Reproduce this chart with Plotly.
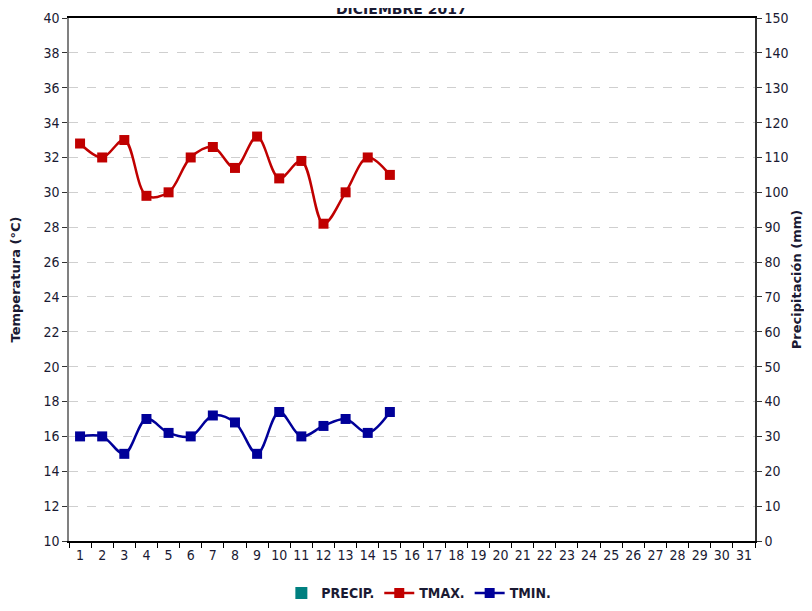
import plotly.graph_objects as go

# Datos diarios - diciembre 2017
dias = [str(d) for d in range(1, 32)]
dias_obs = [str(d) for d in range(1, 16)]
tmax = [32.8, 32.0, 33.0, 29.8, 30.0, 32.0, 32.6, 31.4, 33.2, 30.8, 31.8, 28.2, 30.0, 32.0, 31.0]
tmin = [16.0, 16.0, 15.0, 17.0, 16.2, 16.0, 17.2, 16.8, 15.0, 17.4, 16.0, 16.6, 17.0, 16.2, 17.4]
precip = [0, 0, 0, 0, 0, 0, 0, 0, 0, 0, 0, 0, 0, 0, 0]

FONT = "DejaVu Sans Condensed"
TXT = "#1a1a33"

fig = go.Figure()

fig.add_trace(go.Bar(
    x=dias_obs, y=precip, name="PRECIP.", yaxis="y2",
    marker=dict(color="#008080", line=dict(width=0)),
))
fig.add_trace(go.Scatter(
    x=dias_obs, y=tmax, name="TMAX.", mode="lines+markers",
    line=dict(color="#C00000", width=2.5, shape="spline", smoothing=1.0),
    marker=dict(symbol="square", size=10, color="#C00000"),
))
fig.add_trace(go.Scatter(
    x=dias_obs, y=tmin, name="TMIN.", mode="lines+markers",
    line=dict(color="#000099", width=2.5, shape="spline", smoothing=1.0),
    marker=dict(symbol="square", size=10, color="#000099"),
))

# titulo parcialmente fuera del lienzo, como en el original
fig.add_annotation(
    text="<b>DICIEMBRE 2017</b>", xref="paper", yref="paper",
    x=0.485, y=1.017, xanchor="center", yanchor="middle", showarrow=False,
    font=dict(family="DejaVu Sans", size=14, color=TXT),
)

fig.update_layout(
    width=812, height=611,
    margin=dict(l=61, r=65, t=10, b=68),
    paper_bgcolor="white", plot_bgcolor="white",
    font=dict(family=FONT, size=14, color=TXT),
    showlegend=True,
    legend=dict(orientation="h", x=0.51, xanchor="center", y=-0.1, yanchor="middle",
                font=dict(family=FONT, size=14, color=TXT, weight="bold"),
                itemwidth=30, tracegroupgap=0),
    bargap=0.3,
    xaxis=dict(
        type="category", categoryorder="array", categoryarray=dias,
        range=[-0.5, 30.5], tickson="boundaries", tickangle=0,
        showline=True, linecolor="black", linewidth=1.5, mirror=True,
        ticks="outside", ticklen=5, tickcolor="black",
        showgrid=False, fixedrange=True, automargin=False,
    ),
    yaxis=dict(
        title=dict(text="<b>Temperatura (°C)</b>", font=dict(family="DejaVu Sans", size=13), standoff=20),
        range=[10, 40], dtick=2, tick0=10,
        showline=True, linecolor="#808080", linewidth=1.5,
        ticks="outside", ticklen=5, tickcolor="#333333",
        showgrid=True, gridcolor="#cfcfcf", griddash="dash", gridwidth=1,
        zeroline=False, automargin=False,
    ),
    yaxis2=dict(
        title=dict(text="<b>Precipitación (mm)</b>", font=dict(family="DejaVu Sans", size=13), standoff=4),
        range=[0, 150], dtick=10, overlaying="y", side="right",
        showline=True, linecolor="#333333", linewidth=1.5,
        ticks="outside", ticklen=5, tickcolor="#333333",
        showgrid=False, zeroline=False, automargin=False,
    ),
)

fig.write_html("out.html")
